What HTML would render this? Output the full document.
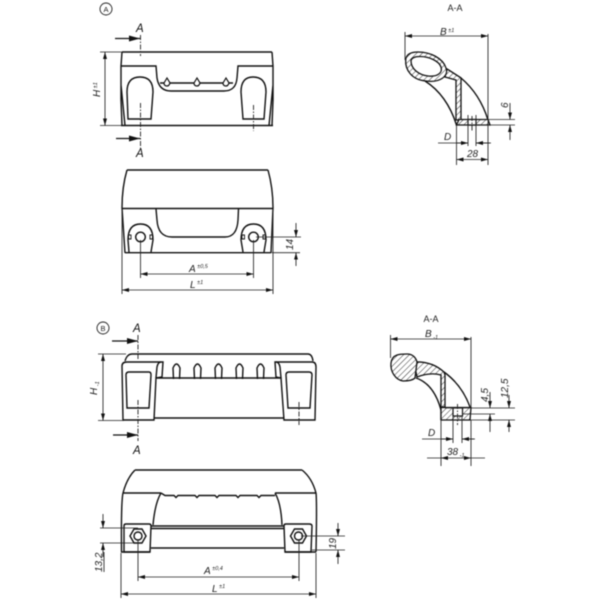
<!DOCTYPE html>
<html>
<head>
<meta charset="utf-8">
<style>
html,body{margin:0;padding:0;background:#fff;width:600px;height:600px;overflow:hidden}
svg{display:block;filter:blur(.45px)}
.m{fill:none;stroke:#111;stroke-width:1.4}
.f{fill:#fff;stroke:#111;stroke-width:1.2}
.d{fill:none;stroke:#222;stroke-width:.85}
.a{fill:none;stroke:#222;stroke-width:.85;marker-end:url(#ar)}
.ab{fill:none;stroke:#222;stroke-width:.85;marker-start:url(#ars);marker-end:url(#ar)}
.c{fill:none;stroke:#222;stroke-width:.9;stroke-dasharray:5 1.5 1.5 1.5}
.sa{fill:none;stroke:#111;stroke-width:1.2;marker-end:url(#big)}
.h{fill:url(#hatch);stroke:#111;stroke-width:1.3}
text{font-family:"Liberation Sans",sans-serif;fill:#222;font-style:italic}
.t{font-size:10px}
.s{font-size:5.5px}
.b{font-size:11.5px;fill:#111}
.n{font-style:normal;font-size:9px}
</style>
</head>
<body>
<svg width="600" height="600" viewBox="0 0 600 600" xmlns="http://www.w3.org/2000/svg">
<defs>
<marker id="ar" markerUnits="userSpaceOnUse" markerWidth="7" markerHeight="4" refX="7" refY="2" orient="auto"><path d="M0 0L7 2L0 4Z" fill="#111"/></marker>
<marker id="ars" markerUnits="userSpaceOnUse" markerWidth="7" markerHeight="4" refX="0" refY="2" orient="auto"><path d="M7 0L0 2L7 4Z" fill="#111"/></marker>
<marker id="big" markerUnits="userSpaceOnUse" markerWidth="11" markerHeight="6" refX="11" refY="3" orient="auto"><path d="M0 0L11 3L0 6Z" fill="#111"/></marker>
<pattern id="hatch" width="4" height="4" patternUnits="userSpaceOnUse" patternTransform="rotate(45)"><rect width="4" height="4" fill="#fff"/><line x1="0" y1="0" x2="0" y2="4" stroke="#333" stroke-width="1"/></pattern>
</defs>

<!-- Panel A front -->
<circle cx="106" cy="9" r="6" class="d" style="stroke-width:.9"/>
<text x="106" y="12" text-anchor="middle" class="n" style="font-size:7.5px">A</text>
<path class="m" d="M122 52H272M121 125.5H273"/>
<path class="m" d="M122 52L121 66L121 100L122 125.5M272 52L273 66L273 100L272 125.5M121 85L125 125.5M273 85L269 125.5"/>
<path class="m" d="M121 66H156L157 78Q159 91 171 91H224Q236 91 237 78L238 66H273"/>
<path class="m" d="M160 83H233"/>
<path class="f" d="M167 78L170 83Q169 86 167 86Q164 86 164 83Z"/>
<path class="f" d="M197 78L200 83Q199 86 197 86Q194 86 194 83Z"/>
<path class="f" d="M226 78L229 83Q228 86 226 86Q223 86 223 83Z"/>
<path class="m" d="M128 119L127 92Q127 77 140 77Q153 77 153 92L151 119Z"/>
<path class="m" d="M243 119L241 92Q241 77 253 77Q266 77 266 92L264 119Z"/>
<path class="d" d="M100 52H122M100 125.5H122"/>
<line x1="105" y1="52" x2="105" y2="125.5" class="ab"/>
<text transform="translate(100 97) rotate(-90)" class="t">H<tspan class="s" dy="-3"> ±1</tspan></text>
<path class="c" d="M140.5 35V56M140.5 103V150"/>
<path class="c" d="M253.5 105V131"/>
<line x1="115" y1="38.500" x2="140" y2="38.500" class="sa"/>
<line x1="116" y1="138.500" x2="140" y2="138.500" class="sa"/>
<text x="136" y="32" class="b">A</text>
<text x="136" y="157" class="b">A</text>

<!-- Panel A bottom -->
<path class="m" d="M127 170H268M127 170Q122 187 122 208M268 170Q273 188 273 208M122 208.500H273M122 208L125 253M273 208L271 253M125 252.700H271"/>
<path class="m" d="M156 209L157 220Q158 237 172 237H225Q237 237 238 220L238.500 209"/>
<path class="m" d="M129 252L128 240Q128 224 140.500 224Q153 224 153 240L151 252"/>
<path class="m" d="M243 252L241 240Q241 224 253.500 224Q266 224 266 240L264 252"/>
<circle cx="140.500" cy="237" r="4.800" class="m"/>
<circle cx="253.500" cy="237" r="4.800" class="m"/>
<path class="m" style="stroke-width:.9" d="M128.500 235h2.500v4h-2.500zM150 235h2.500v4h-2.500zM242 235h2.500v4h-2.500zM263 235h2.500v4h-2.500z"/>
<path class="d" d="M140.500 240V278M253.500 240V278M122 209V294M273 209V294M256 237H301M272 252.700H300"/>
<line x1="140.500" y1="274" x2="253.500" y2="274" class="ab"/>
<line x1="122" y1="290" x2="273" y2="290" class="ab"/>
<text x="189" y="272" class="t">A<tspan class="s" dy="-4"> ±0,5</tspan></text>
<text x="190" y="288" class="t">L<tspan class="s" dy="-4"> ±1</tspan></text>
<line x1="296" y1="223" x2="296" y2="237" class="a"/>
<line x1="296" y1="266" x2="296" y2="252.700" class="a"/>
<text transform="translate(293 250) rotate(-90)" class="t">14</text>

<!-- Section A-A top -->
<text x="455" y="11" text-anchor="middle" class="n">A-A</text>
<path class="m" d="M425 81Q447 95 456.500 125"/>
<path class="m" d="M447 69L461 78Q480 94 488 120"/>
<path class="h" d="M445 77L456 80V120H461V78L447 69Z"/>
<path class="h" fill-rule="evenodd" d="M405.700 60C405 70 412 80 426 81C440 83 449 76 446 68C443 58 430 52 418 52C410 52 406 55 405.700 60ZM411 61C411 69 419 75 428 76C437 77 443 73 441 67C439 61 429 56.500 420 56.500C415 56.500 411 58 411 61Z"/>
<path class="h" d="M456.500 125L459 119.500H488L490 125Z"/>
<rect x="468" y="119.500" width="8" height="5.500" class="f"/>
<path class="d" d="M405 32V60M488 34V120M482 119.500H515M480 125H515"/>
<line x1="405" y1="36" x2="488" y2="36" class="ab"/>
<text x="440" y="35" class="t">B<tspan class="s" dy="-3"> ±1</tspan></text>
<path class="c" d="M472 116V132"/>
<line x1="510" y1="103" x2="510" y2="119.500" class="a"/>
<line x1="510" y1="140" x2="510" y2="125" class="a"/>
<text transform="translate(508 108) rotate(-90)" class="t">6</text>
<path class="d" d="M468 115V146M476 115V146M456.500 125V165M488 121V165"/>
<path class="d" d="M438 143H468M476 143H491"/>
<line x1="456" y1="143" x2="468" y2="143" class="a"/>
<line x1="490" y1="143" x2="476" y2="143" class="a"/>
<text x="444" y="140" class="t">D</text>
<line x1="456.500" y1="159.500" x2="488" y2="159.500" class="ab"/>
<text x="467" y="157" class="t">28</text>

<!-- Panel B front -->
<circle cx="103" cy="328" r="6" class="d" style="stroke-width:.9"/>
<text x="103" y="331" text-anchor="middle" class="n" style="font-size:7.5px">B</text>
<path class="m" d="M125 361Q127 354 132 354H308Q312 354 313 361"/>
<path class="m" d="M122 366Q122 362 127 362H163L162 377L156 378L154 420H123Z"/>
<path class="m" d="M156 378L157 367Q158 362 161 362"/>
<path class="m" d="M275 362H312Q316 362 316 367L315 420H284L281 378L276 377Z"/>
<path class="m" d="M281 378L280 367Q279 362 276 362"/>
<path class="m" d="M156 378H281M154 418H284"/>
<path class="m" d="M173.500 379L173 368Q176.500 360 180 368L179.500 379"/>
<path class="m" d="M194.500 379L194 368Q197.500 360 201 368L200.500 379"/>
<path class="m" d="M215.500 379L215 368Q218.500 360 222 368L221.500 379"/>
<path class="m" d="M236.500 379L236 368Q239.500 360 243 368L242.500 379"/>
<path class="m" d="M257.500 379L257 368Q260.500 360 264 368L263.500 379"/>
<path class="m" d="M127 408L126 375Q126 372 129 372H149Q151 372 151 375L149 408Z"/>
<path class="m" d="M288 408L286 375Q286 372 289 372H309Q312 372 312 375L310 408Z"/>
<path class="d" d="M98 354H126M98 420.500H124"/>
<line x1="103" y1="354" x2="103" y2="420.500" class="ab"/>
<text transform="translate(97 395) rotate(-90)" class="t">H<tspan class="s" dy="2"> -1</tspan></text>
<path class="c" d="M138 335V359M138 400V441M299 402V425"/>
<line x1="112" y1="341" x2="138" y2="341" class="sa"/>
<line x1="113" y1="435" x2="138" y2="435" class="sa"/>
<text x="133" y="332" class="b">A</text>
<text x="133" y="454" class="b">A</text>

<!-- Panel B bottom -->
<path class="m" d="M135 470H302M135 470Q127 478 123 493M302 470Q312 478 316 493M123 493H161M275 493H316"/>
<path class="m" d="M123 493Q121 502 121.500 552M316 493Q317 502 316 552"/>
<path class="m" d="M161 493Q155 503 153 525M275 493Q281 503 282 525"/>
<path class="m" d="M161 493L165 495.500H174L176 497.500L178 495.500H195L197 497.500L199 495.500H215L217 497.500L219 495.500H236L238 497.500L240 495.500H257L259 497.500L261 495.500H275"/>
<path class="m" d="M124 552V526Q124 524 126 524H149Q151 524 151 526L150 552Z"/>
<path class="m" d="M285 552L284 526Q284 524 286 524H309Q312 524 312 526L311 552Z"/>
<path class="m" d="M151 526H284M151 528.500H284M151 548H284M121 552H150M285 552H316"/>
<path class="m" d="M130 536L134 529H142L146 536L142 543H134Z"/>
<path class="m" d="M290.500 536L294.500 529H302.500L306.500 536L302.500 543H294.500Z"/>
<circle cx="138" cy="536" r="4" class="m"/>
<circle cx="298.500" cy="536" r="4" class="m"/>
<path class="d" d="M138 540V581M299 540V581M121 553V598M316 553V598M100 528H138M100 543H134M301 536H345M312 550H345M104 552V572"/>
<line x1="103" y1="514" x2="103" y2="528" class="a"/>
<line x1="103" y1="557" x2="103" y2="543" class="a"/>
<line x1="338" y1="523" x2="338" y2="536" class="a"/>
<line x1="338" y1="564" x2="338" y2="550" class="a"/>
<line x1="138" y1="577" x2="299" y2="577" class="ab"/>
<line x1="121" y1="594" x2="316" y2="594" class="ab"/>
<text x="204" y="574" class="t">A<tspan class="s" dy="-4"> ±0,4</tspan></text>
<text x="212" y="592" class="t">L<tspan class="s" dy="-4"> ±1</tspan></text>
<text transform="translate(102 572) rotate(-90)" class="t">13,2</text>
<text transform="translate(336 549) rotate(-90)" class="t">19</text>

<!-- Section A-A bottom -->
<text x="431" y="322" text-anchor="middle" class="n">A-A</text>
<text x="425" y="337" class="t">B<tspan class="s" dy="2"> -1</tspan></text>
<path class="d" d="M390.500 335V358M471 337V408"/>
<line x1="390.500" y1="339" x2="471" y2="339" class="ab"/>
<path class="m" d="M444 372Q462 385 470 407"/>
<path class="h" d="M441 420V375Q430 372 417 377L414 362Q432 361 444 372L445 375V407H441"/>
<path class="h" d="M391 363C392 354 400 354 407 354C413 354 416 358 417 362L415 378C412 381 406 381 403 381C396 380 390 372 391 363Z"/>
<path class="m" d="M416 378Q434 384 441 410"/>
<path class="h" d="M441 420V407.500H471L470 420Z"/>
<rect x="453" y="408" width="9.500" height="8" class="f"/>
<path class="c" d="M457.500 404V425"/>
<path class="d" d="M445 408H515M462 414H495M470 420H515"/>
<line x1="490" y1="392" x2="490" y2="408" class="a"/>
<line x1="490" y1="432" x2="490" y2="414" class="a"/>
<line x1="509" y1="395" x2="509" y2="408" class="a"/>
<line x1="509" y1="432" x2="509" y2="420" class="a"/>
<text transform="translate(488 402) rotate(-90)" class="t">4,5</text>
<text transform="translate(508 398) rotate(-90)" class="t">12,5</text>
<path class="d" d="M453 416V443M462 416V443M441 420V466M471 420V466"/>
<path class="d" d="M422 439H453M462 439H475"/>
<line x1="441" y1="439" x2="453" y2="439" class="a"/>
<line x1="474" y1="439" x2="462" y2="439" class="a"/>
<text x="428" y="436" class="t">D</text>
<path class="d" d="M427 458H441M471 458H485"/>
<line x1="441" y1="458" x2="471" y2="458" class="ab"/>
<text x="447" y="455" class="t">38<tspan class="s" dy="2"> -1</tspan></text>
</svg>
</body>
</html>
